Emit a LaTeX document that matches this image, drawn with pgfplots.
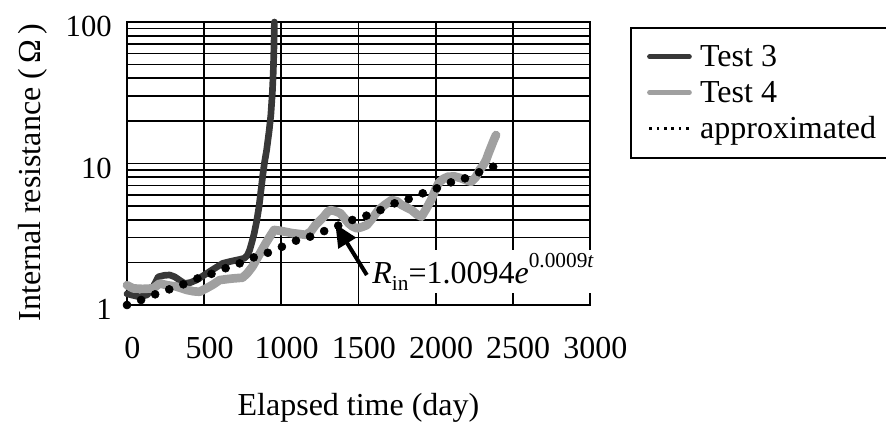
\documentclass[border=0pt]{standalone}
\usepackage{fontspec}
\setmainfont{Liberation Serif}
\usepackage{pgfplots}
\pgfplotsset{compat=1.18}
\usetikzlibrary{arrows.meta}
\definecolor{darkg}{RGB}{56,56,56}
\definecolor{lightg}{RGB}{160,160,160}

\pgfplotstableread{
t R
0 1.20
40 1.17
84 1.14
130 1.18
159 1.28
185 1.45
202 1.58
240 1.62
277 1.63
310 1.58
340 1.50
373 1.42
410 1.44
449 1.50
490 1.60
534 1.72
580 1.85
620 1.97
660 2.02
695 2.06
730 2.10
760 2.14
780 2.25
795 2.45
810 2.8
824 3.2
840 3.9
856 5.0
867 6.3
880 8.3
890 10.0
905 12.5
921 17
932 22
942 32
948 45
952 65
954 85
955 100
}\testthree

\pgfplotstableread{
t R
0 1.38
41 1.31
100 1.30
169 1.31
212 1.42
260 1.38
320 1.35
384 1.28
430 1.25
470 1.24
513 1.31
560 1.40
600 1.50
640 1.52
685 1.54
749 1.56
780 1.68
813 1.87
860 2.3
899 2.73
930 3.1
953 3.39
990 3.35
1028 3.29
1071 3.22
1114 3.18
1157 3.13
1190 3.3
1221 3.67
1250 3.95
1275 4.21
1300 4.55
1318 4.69
1350 4.6
1382 4.45
1410 4.1
1436 3.78
1460 3.6
1489 3.48
1520 3.55
1554 3.67
1590 4.1
1629 4.69
1670 5.1
1715 5.52
1750 5.4
1779 5.10
1810 4.9
1844 4.69
1880 4.35
1908 4.21
1940 4.8
1973 5.6
2000 6.6
2020 7.3
2050 7.8
2080 8.07
2123 8.1
2166 7.86
2200 7.6
2230 7.43
2260 8.0
2284 8.98
2310 9.8
2327 10.6
2345 12
2359 13.1
2375 14.5
2391 15.9
}\testfour

\pgfplotstableread{
t R
0 1.0
91.25 1.085
182.5 1.19
273.75 1.29
365 1.40
456.25 1.54
547.5 1.66
638.75 1.82
730 1.97
821.25 2.17
912.5 2.34
1003.75 2.58
1095 2.85
1186.25 3.04
1277.5 3.33
1368.75 3.64
1460 3.99
1551.25 4.28
1642.5 4.69
1733.75 5.23
1825 5.61
1916.25 6.16
2007.5 6.68
2098.75 7.36
2190 7.86
2281.25 8.67
2372.5 9.49
}\approxdata

\begin{document}
\begin{tikzpicture}[font=\fontsize{24}{28}\selectfont]
\begin{axis}[
  scale only axis,
  width=347.25pt, height=212.25pt,
  ymode=log, log basis y=10,
  xmin=0, xmax=3000, ymin=1, ymax=100,
  xtick={0,500,1000,1500,2000,2500,3000},
  xticklabels={0,500,1000,1500,2000,2500,3000},
  ytick={1,10,100}, yticklabels={1,10,100},
  minor ytick={2,3,4,5,6,7,8,9,20,30,40,50,60,70,80,90},
  xmajorgrids, ymajorgrids, yminorgrids,
  major grid style={black, line width=1.3pt},
  minor grid style={black, line width=1.3pt},
  major tick length=0pt, minor tick length=0pt,
  axis line style={black, line width=1.5pt},
  /pgf/number format/assume math mode=true,
  xticklabel style={anchor=base, yshift=-40pt, xshift=4pt},
  yticklabel style={anchor=base east, inner sep=0pt, xshift=-11.25pt, yshift=-11pt, font=\fontsize{23}{27}\selectfont},
  xlabel={Elapsed time (day)},
  xlabel style={at={([yshift=-83pt]axis description cs:0.5,0)}, anchor=base},
  ylabel={Internal resistance (\,Ω\,)},
  ylabel style={at={([xshift=-65pt,yshift=-6.75pt]axis description cs:0,0.5)}, anchor=base},
  clip=false,
  legend cell align=left,
  legend style={at={([xshift=30pt,yshift=-3.75pt]axis description cs:1,1)}, anchor=north west,
    draw=black, line width=1.2pt, inner xsep=6pt, inner ysep=11pt,
    font=\fontsize{24}{28}\selectfont, row sep=5.5pt},
  legend image code/.code={\path[draw=none,fill=none] (-8pt,0pt) -- (36pt,0pt); \draw[#1, line width=3.5pt] (0pt,0pt) -- (30pt,0pt);},
]
\coordinate (SW) at (rel axis cs:0,0);
\coordinate (NE) at (rel axis cs:1,1);
\addplot[darkg, line width=5pt, line join=round, line cap=round] table[x=t,y=R] {\testthree};
\addlegendentry{Test 3}
\addplot[lightg, line width=6.5pt, line join=round, line cap=round] table[x=t,y=R] {\testfour};
\addlegendentry{Test 4}
\addplot[only marks, mark=*, mark size=3pt, black,
  legend image code/.code={\path[draw=none,fill=none] (-8pt,0pt) -- (36pt,0pt); \draw[black, line width=2.2pt, dash pattern=on 2pt off 3.5pt] (0pt,0pt) -- (30pt,0pt);}]
  table[x=t,y=R] {\approxdata};
\addlegendentry{approximated}
\draw[-{Triangle[length=17pt,width=15pt]}, line width=3pt] (axis cs:1554,1.63) -- (axis cs:1350,3.74);
\node[anchor=base west, fill=white, inner sep=2pt] at (axis cs:1571,1.43)
  {\textit{R}\raisebox{-0.22em}{\fontsize{16}{16}\selectfont in}=1.0094\textit{e}\raisebox{0.5em}{\fontsize{16}{16}\selectfont 0.0009\textit{t}}};
\end{axis}
\pgfresetboundingbox
\path[use as bounding box] ([xshift=-95.25pt,yshift=-87.75pt]SW) rectangle ([xshift=222pt,yshift=16.5pt]NE);
\end{tikzpicture}
\end{document}
